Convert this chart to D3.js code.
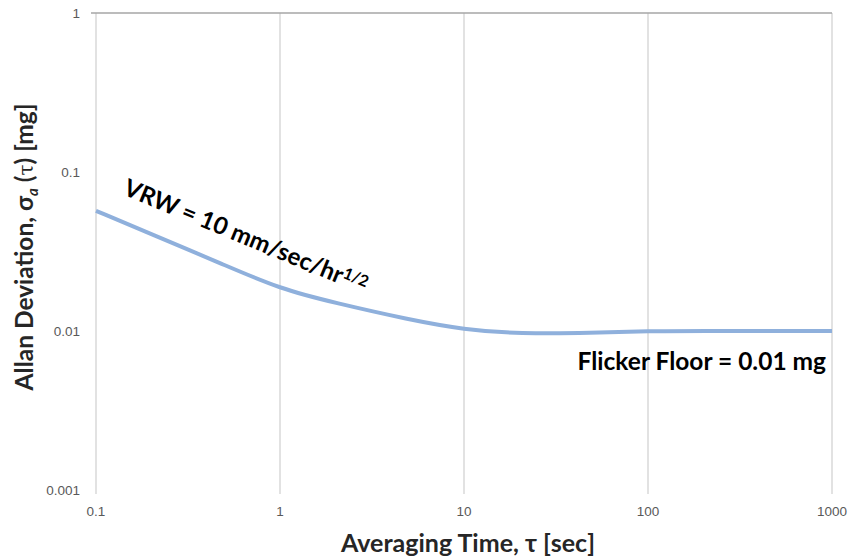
<!DOCTYPE html>
<html>
<head>
<meta charset="utf-8">
<script src="https://cdn.jsdelivr.net/npm/d3@7/dist/d3.min.js"></script>
<style>
  html, body { margin: 0; padding: 0; background: #fff; }
  svg { display: block; }
</style>
</head>
<body>
<svg id="chart" width="851" height="558"></svg>
<script>
// Averaging time (s) and Allan deviation (mg)
const tau = [0.1, 0.2, 0.5, 1, 2, 5, 10, 20, 50, 100, 200, 500, 1000];
const sigma = [0.057, 0.0407, 0.026, 0.0184, 0.0150, 0.0118, 0.0102, 0.0096, 0.0097, 0.01, 0.01, 0.01, 0.01];

const xTicks = [0.1, 1, 10, 100, 1000];
const xTickLabels = ["0.1", "1", "10", "100", "1000"];
const yTicks = [0.001, 0.01, 0.1, 1];
const yTickLabels = ["0.001", "0.01", "0.1", "1"];

const svg = d3.select("#chart");
const margin = { left: 96, right: 19, top: 13, bottom: 68 };
const W = 851, H = 558;

const x = d3.scaleLog().domain([0.1, 1000]).range([margin.left, W - margin.right]);
const y = d3.scaleLog().domain([0.001, 1]).range([H - margin.bottom, margin.top]);

// vertical gridlines
svg.append("g")
  .selectAll("line")
  .data(xTicks)
  .join("line")
  .attr("x1", d => x(d)).attr("x2", d => x(d))
  .attr("y1", y(1)).attr("y2", y(0.001) + 4)
  .attr("stroke", "#d9d9d9").attr("stroke-width", 1.5);

// top horizontal axis line
svg.append("line")
  .attr("x1", x(0.1) - 5).attr("x2", x(1000))
  .attr("y1", y(1)).attr("y2", y(1))
  .attr("stroke", "#a6a6a6").attr("stroke-width", 1.5);

const tickFont = "'Liberation Sans', Arial, sans-serif";

// y tick labels
svg.append("g")
  .selectAll("text")
  .data(yTicks)
  .join("text")
  .attr("x", 80)
  .attr("y", d => y(d))
  .attr("dy", "0.35em")
  .attr("text-anchor", "end")
  .attr("font-family", tickFont)
  .attr("font-size", 13.5)
  .attr("fill", "#595959")
  .text((d, i) => yTickLabels[i]);

// x tick labels
svg.append("g")
  .selectAll("text")
  .data(xTicks)
  .join("text")
  .attr("x", d => x(d))
  .attr("y", 511)
  .attr("dy", "0.35em")
  .attr("text-anchor", "middle")
  .attr("font-family", tickFont)
  .attr("font-size", 13.5)
  .attr("fill", "#595959")
  .text((d, i) => xTickLabels[i]);

// Allan deviation curve
const line = d3.line()
  .x((d, i) => x(tau[i]))
  .y(d => y(d))
  .curve(d3.curveBasis);

svg.append("path")
  .datum(sigma)
  .attr("d", line)
  .attr("fill", "none")
  .attr("stroke", "#8fb0dc")
  .attr("stroke-width", 4);

const labelFont = "Lato, 'Open Sans', sans-serif";

// VRW annotation
const vrw = svg.append("text")
  .attr("transform", "translate(122,194) rotate(22.5)")
  .attr("font-family", labelFont)
  .attr("font-weight", "bold")
  .attr("font-size", 24)
  .attr("fill", "#000");
vrw.append("tspan").text("VRW = 10 mm/sec/hr");
vrw.append("tspan").attr("font-size", 16).attr("dy", -7).text("1/2");

// flicker floor annotation
svg.append("text")
  .attr("x", 826).attr("y", 370)
  .attr("text-anchor", "end")
  .attr("font-family", labelFont)
  .attr("font-weight", "bold")
  .attr("font-size", 24.5)
  .attr("fill", "#000")
  .text("Flicker Floor = 0.01 mg");

// axis titles
svg.append("text")
  .attr("x", 468).attr("y", 552)
  .attr("text-anchor", "middle")
  .attr("font-family", labelFont)
  .attr("font-weight", "bold")
  .attr("font-size", 25)
  .attr("fill", "#262626")
  .text("Averaging Time, τ [sec]");

const yt = svg.append("text")
  .attr("transform", "translate(33,247) rotate(-90)")
  .attr("text-anchor", "middle")
  .attr("font-family", labelFont)
  .attr("font-weight", "bold")
  .attr("font-size", 24.5)
  .attr("fill", "#262626");
yt.append("tspan").text("Allan Deviation, σ");
yt.append("tspan").attr("font-size", 15).attr("font-style", "italic").attr("dy", 5).text("a");
yt.append("tspan").attr("dy", -5).text(" (");
yt.append("tspan").attr("font-weight", "normal").attr("font-family", "'DejaVu Serif', serif").attr("font-size", 20).text("τ");
yt.append("tspan").text(") [mg]");
</script>
</body>
</html>
